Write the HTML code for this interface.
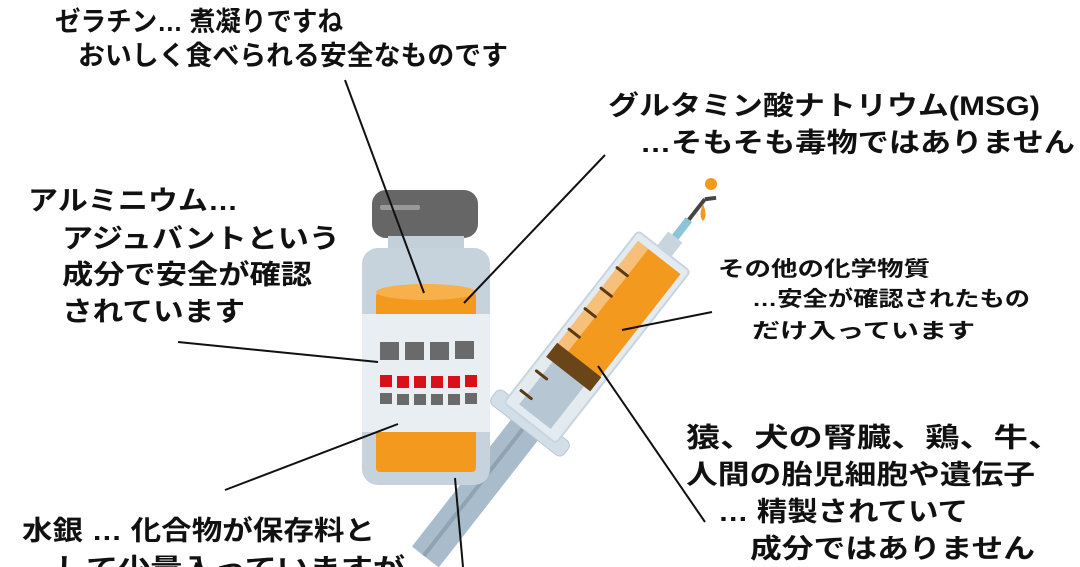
<!DOCTYPE html>
<html><head><meta charset="utf-8"><style>
html,body{margin:0;padding:0;background:#fff;}
svg{display:block;}
text{font-family:"Liberation Sans","Noto Sans CJK JP",sans-serif;fill:#111;font-weight:bold;}
</style></head><body>
<svg width="1080" height="567" viewBox="0 0 1080 567" xmlns="http://www.w3.org/2000/svg">
<rect width="1080" height="567" fill="#fff"/>
<!-- syringe -->
<g transform="translate(530,423) rotate(-52)">
  <rect x="-170" y="-17" width="175" height="34" fill="#a9bccb"/>
  <rect x="-170" y="-4" width="175" height="4" fill="#8fa3b3"/>
  <rect x="-9" y="-46" width="18" height="92" rx="6" fill="#d3dfe8" stroke="#b8c8d4"/>
  <rect x="0" y="-33" width="218" height="66" rx="4" fill="#e3ebf1" stroke="#c8d5df" stroke-width="2"/>
  <rect x="8" y="-20" width="60" height="40" fill="#b6c7d3"/>
  <rect x="68" y="-27" width="142" height="54" fill="#f39a1e"/>
  <rect x="68" y="-27" width="142" height="13" fill="#f7c07a"/>
  <rect x="62" y="-28" width="18" height="56" fill="#6a4517"/>
  <g stroke="#5a3a12" stroke-width="3" stroke-linecap="round">
    <line x1="20" y1="-27" x2="20" y2="-14"/>
    <line x1="45" y1="-27" x2="45" y2="-14"/>
    <line x1="98" y1="-27" x2="98" y2="-14"/>
    <line x1="124" y1="-27" x2="124" y2="-14"/>
    <line x1="150" y1="-27" x2="150" y2="-14"/>
    <line x1="176" y1="-27" x2="176" y2="-14"/>
  </g>
  <rect x="218" y="-9" width="18" height="18" fill="#c9d5de"/>
  <rect x="236" y="-4" width="22" height="8" fill="#8cc5d6"/>
  <rect x="258" y="-2" width="26" height="4" fill="#444"/>
  <line x1="284" y1="0" x2="292" y2="8" stroke="#444" stroke-width="4"/>
</g>
<circle cx="711" cy="184" r="6" fill="#f39a1e"/>
<path d="M703 204 Q698 216 703 221 Q708 216 703 204Z" fill="#f39a1e"/>
<!-- vial -->
<rect x="372" y="190" width="106" height="48" rx="14" fill="#666"/>
<rect x="380" y="205" width="40" height="5" rx="2" fill="#999"/>
<rect x="388" y="236" width="76" height="16" fill="#c3d0da"/>
<rect x="362" y="248" width="128" height="237" rx="16" fill="#c7d3dc"/>
<rect x="376" y="292" width="100" height="180" rx="4" fill="#f39a1e"/>
<ellipse cx="426" cy="292" rx="50" ry="8" fill="#f7b04a"/>
<rect x="362" y="314" width="128" height="118" fill="#e9eef2"/>
<g fill="#6a6a6a">
<rect x="380" y="342" width="19" height="18"/><rect x="405" y="342" width="19" height="18"/><rect x="430" y="342" width="19" height="18"/><rect x="455" y="341" width="19" height="18"/>
<rect x="380" y="393" width="12" height="11"/><rect x="397" y="394" width="12" height="11"/><rect x="414" y="394" width="12" height="11"/><rect x="431" y="394" width="12" height="11"/><rect x="448" y="394" width="12" height="11"/><rect x="465" y="393" width="12" height="11"/>
</g>
<g fill="#d8101a">
<rect x="380" y="375" width="12" height="12"/><rect x="397" y="376" width="12" height="12"/><rect x="414" y="376" width="12" height="12"/><rect x="431" y="376" width="12" height="12"/><rect x="448" y="376" width="12" height="12"/><rect x="465" y="375" width="12" height="12"/>
</g>
<!-- leader lines -->
<g stroke="#111" stroke-width="2" fill="none">
<line x1="345" y1="80" x2="424" y2="293"/>
<line x1="605" y1="155" x2="464" y2="303"/>
<line x1="178" y1="342" x2="378" y2="362"/>
<line x1="225" y1="490" x2="398" y2="424"/>
<line x1="712" y1="312" x2="622" y2="330"/>
<line x1="598" y1="366" x2="705" y2="522"/>
<line x1="455" y1="478" x2="463" y2="567"/>
</g>
<!-- texts -->
<g font-size="27">
<text x="55" y="31" textLength="288" lengthAdjust="spacingAndGlyphs">ゼラチン… 煮凝りですね</text>
<text x="78" y="65" textLength="430" lengthAdjust="spacingAndGlyphs">おいしく食べられる安全なものです</text>
<text x="608" y="115" textLength="432" lengthAdjust="spacingAndGlyphs">グルタミン酸ナトリウム(MSG)</text>
<text x="640" y="152" textLength="435" lengthAdjust="spacingAndGlyphs">…そもそも毒物ではありません</text>
<text x="28" y="210" textLength="210" lengthAdjust="spacingAndGlyphs">アルミニウム…</text>
<text x="62" y="248" textLength="278" lengthAdjust="spacingAndGlyphs">アジュバントという</text>
<text x="62" y="284" textLength="250" lengthAdjust="spacingAndGlyphs">成分で安全が確認</text>
<text x="62" y="321" textLength="183" lengthAdjust="spacingAndGlyphs">されています</text>
<text x="686" y="447" textLength="376" lengthAdjust="spacingAndGlyphs">猿、犬の腎臓、鶏、牛、</text>
<text x="686" y="484" textLength="349" lengthAdjust="spacingAndGlyphs">人間の胎児細胞や遺伝子</text>
<text x="718" y="521" textLength="250" lengthAdjust="spacingAndGlyphs">… 精製されていて</text>
<text x="750" y="558" textLength="285" lengthAdjust="spacingAndGlyphs">成分ではありません</text>
<text x="22" y="540" textLength="353" lengthAdjust="spacingAndGlyphs">水銀 … 化合物が保存料と</text>
<text x="55" y="578" textLength="350" lengthAdjust="spacingAndGlyphs">して少量入っていますが</text>
</g>
<g font-size="21">
<text x="718" y="276" textLength="212" lengthAdjust="spacingAndGlyphs">その他の化学物質</text>
<text x="752" y="306" textLength="278" lengthAdjust="spacingAndGlyphs">…安全が確認されたもの</text>
<text x="752" y="338" textLength="223" lengthAdjust="spacingAndGlyphs">だけ入っています</text>
</g>
</svg>
</body></html>
